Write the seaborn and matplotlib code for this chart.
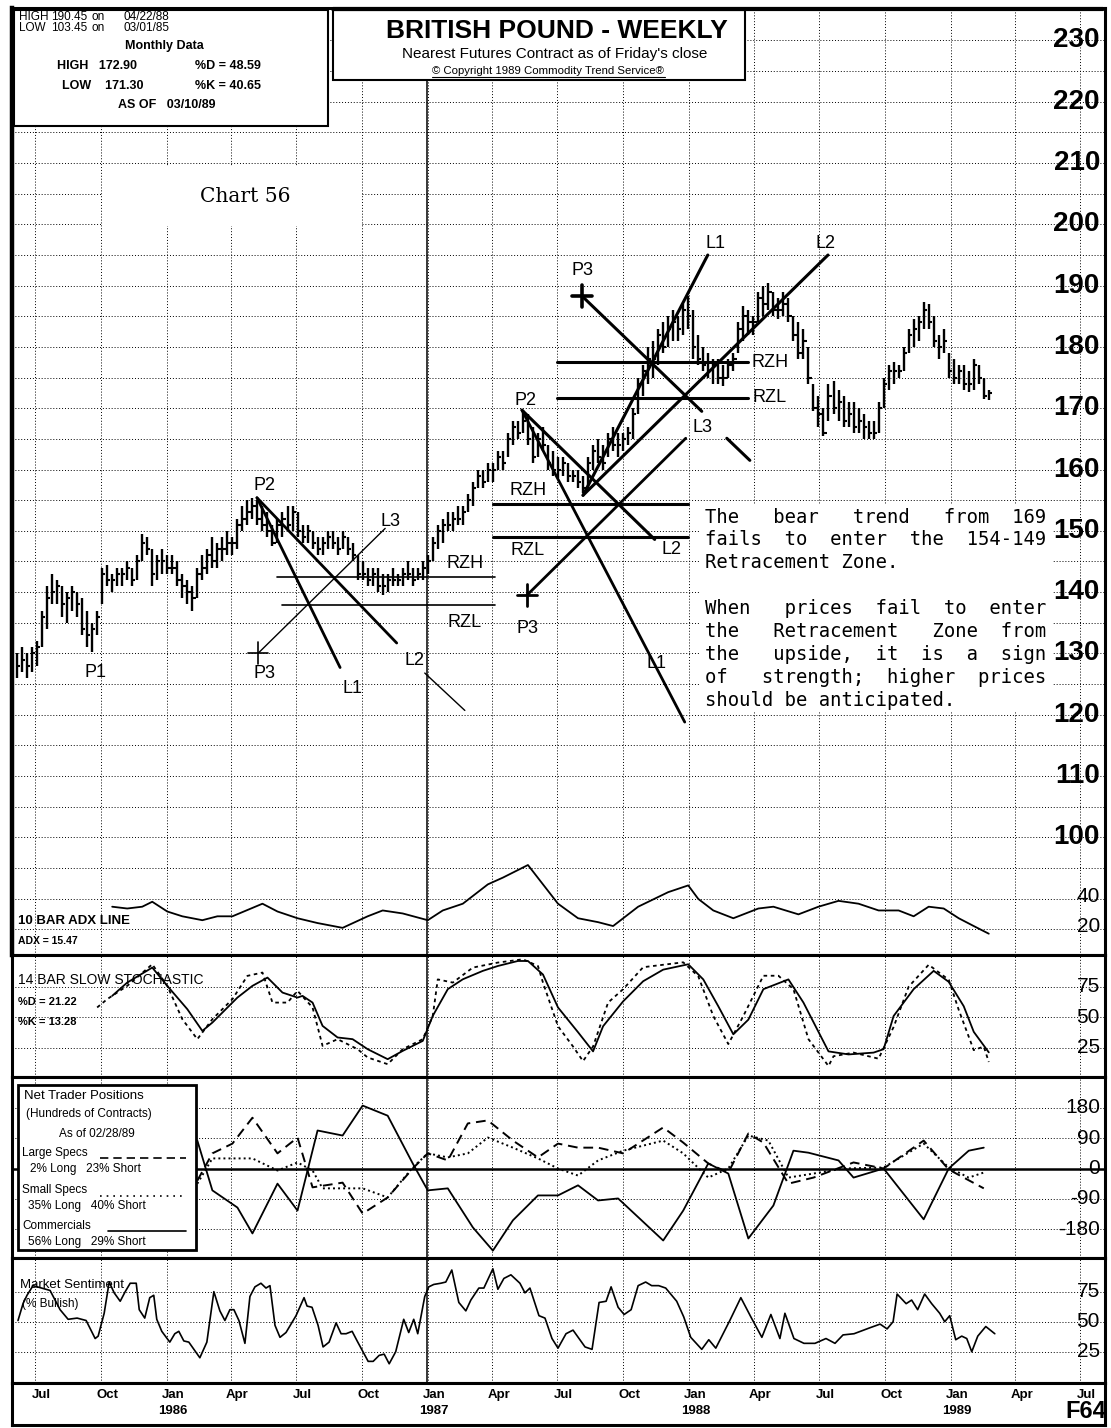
import numpy as np
import pandas as pd
import matplotlib
matplotlib.use("Agg")
import matplotlib.pyplot as plt
import matplotlib.transforms as mtrans
from matplotlib.patches import Rectangle
from matplotlib import font_manager as fm
import seaborn as sns

sns.set_theme(style="white")
plt.rcParams["font.family"] = ["Liberation Sans", "DejaVu Sans"]
_installed = {f.name for f in fm.fontManager.ttflist}
NARROW = "Liberation Sans Narrow" if "Liberation Sans Narrow" in _installed else "Liberation Sans"

# ---------------------------------------------------------------- data
FIRST_WEEK = pd.Timestamp("1985-06-21")   # Friday of the first weekly bar

price_high = [
    130, 131, 130, 131, 132, 137, 141, 143, 142, 141,
    140, 141, 140, 139, 137, 135, 137, 144, 144.5, 143,
    144, 144, 145, 144, 146, 149.5, 149, 147, 146, 147,
    146, 146, 145, 143, 142, 141, 144, 146, 147, 149,
    148, 149, 150, 149, 152, 154, 155, 155.4, 155, 154,
    153, 151, 152, 153, 154, 154, 153, 151, 151, 150,
    149, 149, 150, 150, 149, 150, 149, 148, 146, 145,
    144, 144, 144, 143, 143, 144, 143, 144, 145, 144,
    144, 145, 146, 149, 151, 152, 153, 153, 154, 154,
    156, 158, 160, 160, 161, 161, 163, 163, 166, 168,
    168, 169.7, 169, 167, 166, 167, 164, 163, 162, 162,
    161, 160, 160, 159, 162, 164, 165, 164, 166, 167,
    166, 166, 167, 170, 175, 177, 180, 181, 183, 184,
    185, 186, 185, 187, 188.3, 186, 182, 180, 179, 178,
    178, 177, 178, 179, 184, 186.7, 186, 185, 189, 190,
    190.45, 189, 188, 189, 188, 185, 184, 183, 180, 174,
    172, 170, 174, 174.4, 173, 172, 171, 171, 170, 169,
    168, 168, 171, 175, 177, 177.6, 177, 180, 183, 184.6,
    185, 187.4, 187, 185, 182, 183, 179, 178, 177, 177,
    176, 178, 177, 175, 173]
price_low = [
    126, 127, 126, 127, 128, 131, 134, 138, 138, 136,
    135, 137, 136, 133, 131, 130.2, 133, 138, 141, 140,
    141, 141, 142, 141, 142, 145, 146, 141, 142, 143,
    143, 143, 141, 139, 138, 137, 139, 142, 143, 144,
    144, 145, 146, 146, 147, 150, 151, 152, 151, 150,
    149, 147.6, 148, 149, 150, 150, 149, 148, 148, 147,
    146, 146, 147, 147, 146, 147, 146, 145, 142, 142,
    141, 141, 140, 139.6, 140, 141, 141, 141, 142, 141,
    142, 142, 143, 145, 147, 148, 150, 150, 151, 151,
    153, 154, 157, 157, 158, 158, 160, 160, 162, 164,
    165, 166, 164, 161, 162, 163, 160, 159, 158.6, 159,
    158, 158, 157, 156.2, 157, 160, 161, 160, 162, 163,
    162, 163, 164, 165, 169, 172, 174, 175, 177, 179,
    180, 181, 181, 182, 183, 178, 177, 176, 175, 174,
    174, 173.7, 175, 176, 179, 181, 182, 182, 184, 185,
    186, 185, 184.5, 185, 184, 181, 178, 178, 174, 169.5,
    167, 165.5, 168, 169, 168, 167, 167, 166, 166, 165,
    165, 165, 166, 170, 173, 174, 175, 176, 179, 180,
    181, 183, 183, 180, 178, 179, 175, 174, 174, 173,
    172.7, 173, 174, 171.5, 171.3]
price_close = [
    128, 129, 128, 130, 131, 136, 139, 140, 141, 138,
    139, 140, 138, 134, 133, 134, 136, 143, 142, 142,
    143, 143, 144, 142, 145, 148, 147, 143, 145, 145,
    144, 144, 142, 141, 140, 139, 143, 144, 146, 145,
    147, 147, 148, 148, 151, 152, 153, 154, 152, 151,
    150, 148, 151, 152, 151, 153, 150, 149, 150, 148,
    147, 148, 149, 148, 147, 149, 147, 146, 143, 143,
    142, 143, 141, 141, 142, 142, 142, 143, 143, 142,
    143, 144, 145, 148, 150, 151, 151, 152, 152, 153,
    155, 157, 159, 158, 160, 160, 162, 161, 165, 167,
    166, 168, 165, 162, 165, 164, 161, 160, 160, 161,
    159, 159, 158, 157, 161, 163, 162, 161, 165, 164,
    164, 165, 166, 169, 174, 176, 178, 178, 182, 180,
    183, 184, 183, 186, 185, 180, 178, 177, 176, 177,
    175, 175, 177, 178, 183, 185, 184, 184, 188, 187,
    189, 186, 186, 187, 185, 182, 179, 181, 175, 170,
    169, 166, 172, 170, 171, 168, 169, 167, 168, 167,
    166, 166, 170, 174, 176, 176, 176, 179, 182, 183,
    184, 186, 184, 181, 180, 181, 176, 175, 176, 174,
    174, 177, 175, 172, 172.5]

# 10 bar ADX (weeks since first bar, value)
adx_week = [19, 22, 25, 27, 30, 33, 37, 40, 43, 49, 52, 56, 60, 65, 70, 73, 77, 82, 85, 89,
            94, 97, 102, 105, 108, 112, 116, 119, 124, 130, 134, 136, 139, 143, 148, 151,
            156, 160, 164, 168, 172, 176, 179, 182, 185, 188, 191, 194]
adx_value = [33.5, 32.3, 33.5, 36.8, 30.3, 27.1, 24.5, 27.1, 27.1, 35.5, 30.3, 25.8, 22.6, 19.4,
             27.1, 31, 29, 24.5, 31, 35.5, 48.4, 52.9, 61.3, 48.4, 35.5, 25.8, 23.2, 20.6, 33.5,
             43.2, 47.7, 38.7, 31, 25.8, 32.3, 33.5, 28.4, 33.5, 37.4, 35.5, 31, 31, 27.1, 33.5,
             32.3, 25.8, 20.6, 15.5]

# 14 bar slow stochastic
stoch_d_week = [19, 22, 27, 30, 34, 37, 39, 44, 47, 50, 53, 56, 57, 59, 61, 64, 67, 70, 74, 77,
                81, 83, 86, 89, 93, 96, 100, 102, 105, 108, 112, 115, 117, 121, 125, 129, 134,
                137, 140, 143, 146, 149, 154, 157, 162, 166, 171, 173, 175, 179, 183, 186, 189,
                191, 194]
stoch_d = [67.5, 78.4, 90.7, 75.7, 56.6, 38.8, 45.6, 66.1, 75.7, 82.5, 70.2, 66.1, 67.5, 62,
           42.9, 33.4, 32, 23.8, 15.6, 22.4, 30.6, 51.1, 73, 81.1, 88, 92, 96.1, 96.1, 85, 58,
           37.7, 22, 42.6, 63, 79.5, 89, 93.4, 81, 59, 36, 48, 73, 81, 62, 22, 19.5, 21, 23.8,
           51, 73, 88, 79, 59, 38, 21.2]
stoch_k_week = [16, 18, 22, 27, 30, 33, 36, 39, 43, 46, 49, 51, 54, 56, 59, 61, 64, 68, 70, 74,
                77, 81, 83, 84, 87, 91, 96, 101, 104, 105, 108, 111, 113, 115, 118, 121, 125,
                133, 136, 139, 142, 145, 149, 152, 155, 158, 162, 163, 167, 172, 175, 178, 182,
                186, 188, 191, 193, 194]
stoch_k = [58, 64.8, 75.7, 93.4, 75.7, 48.4, 32, 48.4, 64.8, 83.9, 86.6, 62, 62, 71.6, 58, 26.5,
           32, 23.8, 17, 11.5, 23.8, 32, 51, 81, 78.4, 90.7, 94.8, 97.5, 92, 78.4, 42.6, 26, 14,
           26, 62, 73, 91, 95, 83.6, 51, 28, 51, 84, 84, 73, 32, 10, 18, 21, 16, 42, 75, 93,
           80.7, 56, 23, 26, 13.3]

# net trader positions, hundreds of contracts
comm_week = [36, 39, 44, 47, 52, 56, 60, 65, 69, 74, 79, 82, 86, 91, 95, 99, 104, 108, 112, 116,
             120, 129, 133, 138, 142, 146, 151, 155, 158, 164, 167, 173, 181, 186, 190, 193]
comm_value = [83, -65, -116, -193, -45, -125, 113, 98, 187, 157, 15, -65, -59, -175, -244, -154,
              -80, -80, -50, -95, -89, -214, -125, 15, -15, -208, -110, 53, 47, 24, -27, 0, -151,
              0, 53, 62]
large_week = [36, 39, 43, 47, 52, 56, 59, 65, 69, 74, 79, 82, 86, 90, 94, 99, 104, 108, 112, 116,
              121, 129, 133, 138, 142, 146, 149, 154, 159, 167, 173, 181, 186, 193]
large_value = [-36, 45, 74, 151, 45, 92, -56, -42, -134, -86, 0, 45, 24, 134, 143, 83, 33, 74, 62,
               62, 45, 122, 77, 15, -12, 104, 77, -45, -27, 18, 0, 83, -3, -59]
small_week = [36, 39, 47, 52, 56, 59, 61, 69, 74, 79, 82, 86, 90, 94, 99, 104, 108, 112, 116, 121,
              129, 133, 138, 142, 146, 150, 154, 159, 165, 173, 181, 186, 190, 193]
small_value = [-45, 30, 30, -6, 18, -6, -59, -59, -86, 3, 45, 33, 45, 92, 62, 30, 0, -21, 24, 53,
               83, 45, -27, 0, 98, 83, -27, -15, 0, 3, 74, 3, -27, -12]

# market sentiment, % bullish (weeks since first bar)
sent_week = [0.2, 1.2, 2.0, 3.2, 6.6, 8.6, 10.2, 12.0, 13.8, 15.6, 16.2, 17.4, 18.4, 19.4, 20.6,
             21.6, 22.6, 23.8, 24.4, 25.5, 26.5, 27.3, 27.9, 28.9, 30.5, 31.5, 32.3, 33.3, 34.3,
             36.5, 37.9, 39.3, 40.5, 41.5, 42.5, 43.3, 44.3, 45.5, 46.5, 47.5, 48.7, 49.7, 50.5,
             51.5, 52.5, 53.7, 54.7, 55.7, 57.3, 57.9, 58.9, 60.1, 61.1, 62.3, 63.7, 64.7, 65.7,
             66.9, 67.9, 70.1, 71.1, 72.3, 73.3, 74.3, 75.6, 77.2, 78.2, 79.2, 80.0, 81.4, 82.2,
             83.2, 84.6, 85.6, 86.8, 88.2, 89.6, 90.6, 92.2, 93.2, 95.0, 96.0, 97.2, 98.6, 100.4,
             101.4, 102.4, 104.2, 105.4, 106.8, 108.0, 109.6, 111.0, 113.4, 114.8, 116.2, 117.6,
             118.6, 120.0, 121.2, 122.6, 124.0, 125.5, 126.7, 128.1, 129.5, 131.7, 133.1, 134.5,
             136.7, 138.1, 139.5, 142.3, 144.5, 146.5, 148.7, 150.5, 152.3, 153.3, 155.1, 157.1,
             159.3, 161.5, 163.3, 164.9, 167.1, 170.3, 172.3, 173.7, 174.9, 175.7, 177.5, 178.6,
             179.8, 181.2, 182.6, 184.2, 185.2, 186.2, 187.4, 188.6, 189.6, 190.6, 191.8, 193.4,
             195.2]
sent_value = [51, 65, 72, 80, 76, 60, 52, 53, 51, 36, 38, 57, 83, 74, 67,
              75, 82, 82, 60, 53, 70, 72, 52, 42, 33, 40, 42, 34, 33,
              20, 33, 75, 59, 51, 60, 60, 51, 32, 71, 79, 82, 78, 80,
              47, 37, 41, 48, 55, 70, 63, 62, 47, 29, 33, 49, 40, 40,
              42, 34, 17, 17, 22, 23, 15, 25, 52, 41, 52, 40, 71, 79,
              81, 82, 83, 93, 66, 59, 68, 78, 78, 94, 77, 86, 89, 82,
              74, 78, 55, 53, 36, 28, 40, 43, 29, 27, 66, 67,
              79, 62, 56, 60, 80, 83, 80, 80, 78, 67, 54, 37,
              27, 35, 28, 51, 70, 54, 37, 56, 36, 57, 36, 32,
              32, 36, 32, 39, 40, 45, 48, 44, 50, 73, 65, 68,
              60, 73, 65, 57, 50, 55, 35, 38, 36, 25, 38, 46,
              40]

# retracement work: (start week, start price, end week, end price, width)
trend_lines = [
    (47.9, 155.4, 64.5, 127.7, 2.0),
    (47.9, 155.4, 75.8, 131.7, 2.0),
    (81.4, 126.8, 89.4, 120.7, 1.0),
    (48.1, 130.0, 73.5, 150.4, 1.0),
    (51.9, 142.4, 95.4, 142.4, 1.2),
    (52.9, 137.9, 95.4, 137.9, 1.2),
    (100.8, 169.7, 133.3, 118.8, 2.0),
    (100.8, 169.7, 127.3, 148.6, 2.2),
    (101.8, 139.5, 133.5, 165.1, 2.0),
    (95.0, 154.3, 133.9, 154.3, 2.2),
    (95.0, 149.0, 133.9, 149.0, 2.2),
    (112.8, 188.3, 136.7, 169.5, 2.2),
    (141.7, 165.1, 146.3, 161.5, 2.2),
    (113.0, 155.8, 137.9, 195.0, 2.2),
    (113.0, 155.8, 161.9, 195.0, 2.2),
    (107.8, 177.5, 145.9, 177.5, 2.2),
    (107.8, 171.6, 145.9, 171.6, 2.2),
]
p3_marks = [(48.1, 130.0, 1.2), (101.8, 139.5, 2.0), (112.8, 188.3, 2.6)]
point_labels = [
    ("P1", 15.6, 126.9), ("P2", 49.5, 157.4), ("P3", 49.5, 126.8), ("L1", 66.9, 124.3),
    ("L2", 79.4, 128.9), ("L3", 74.5, 151.6), ("RZH", 89.4, 144.7), ("RZL", 89.4, 135.1),
    ("P2", 101.6, 171.3), ("RZH", 102.0, 156.6), ("RZL", 102.0, 146.8), ("P3", 102.0, 134.1),
    ("L1", 127.7, 128.4), ("L2", 130.7, 147.0), ("L3", 136.9, 166.9),
    ("P3", 112.8, 192.5), ("L1", 139.5, 196.9), ("L2", 161.5, 196.9),
    ("RZH", 150.3, 177.5), ("RZL", 150.3, 171.8),
]

price_ticks = list(range(100, 231, 10))
quarter_dates = pd.date_range("1985-07-01", "1989-07-01", freq="3MS") + pd.Timedelta(days=15)
quarter_names = ["Jul", "Oct", "Jan", "Apr"] * 4 + ["Jul"]
year_names = {2: "1986", 6: "1987", 10: "1988", 14: "1989"}

# ---------------------------------------------------------------- helpers
W, H = 1111, 1428
fig = plt.figure(figsize=(W / 100, H / 100), dpi=100)
fig.patch.set_facecolor("white")


def wk(weeks):
    w = np.atleast_1d(np.asarray(weeks, dtype=float))
    return FIRST_WEEK + pd.to_timedelta(w * 7, unit="D")


def panel(top, bottom):
    return fig.add_axes([12 / W, 1 - bottom / H, (1105 - 12) / W, (bottom - top) / H])


def px(x, y):
    return x / W, 1 - y / H


def ftext(x, y, s, **kw):
    kw.setdefault("va", "center")
    kw.setdefault("color", "black")
    return fig.text(*px(x, y), s, **kw)


def fbox(x0, y0, x1, y1, lw=1.5, z=1):
    fig.add_artist(Rectangle(px(x0, y1), (x1 - x0) / W, (y1 - y0) / H,
                             transform=fig.transFigure, facecolor="white",
                             edgecolor="black" if lw > 0 else "white", lw=max(lw, 0.01), zorder=z))


XLIM = (wk(-1.0)[0], wk(217.2)[0])
GRID = dict(color="black", lw=0.7, ls=(0, (1, 2)))
DOTTED = (0, (1, 1.6))
DASHED = (0, (5, 3))
NFAM = [NARROW, "DejaVu Sans"]


def style_panel(ax, yticks, ylim, lw=2.2):
    ax.set_xlim(*XLIM)
    ax.set_ylim(*ylim)
    ax.set_xticks(quarter_dates)
    ax.set_yticks(yticks)
    ax.grid(True, **GRID)
    ax.tick_params(left=False, bottom=False, right=False, top=False,
                   labelleft=False, labelbottom=False)
    ax.set_xlabel("")
    ax.set_ylabel("")
    for s in ax.spines.values():
        s.set_visible(True)
        s.set_color("black")
        s.set_linewidth(lw)
    ax.axvline(pd.Timestamp("1987-01-15"), color="black", lw=1.1, zorder=1)


def right_labels(ax, values, size, weight="normal"):
    tr = mtrans.blended_transform_factory(ax.transAxes, ax.transData)
    for v in values:
        ax.text(0.9954, v, str(v), transform=tr, ha="right", va="center",
                fontsize=size, fontweight=weight, family=NFAM, zorder=6, color="black")


# ---------------------------------------------------------------- price panel
ax = panel(8, 955)

bar_dates = wk(range(len(price_close)))
ax.vlines(bar_dates, price_low, price_high, color="black", lw=1.7, zorder=4)
ax.hlines(price_close, bar_dates, bar_dates + pd.Timedelta(days=4.5), color="black", lw=1.5,
          zorder=4)

for w0, p0, w1, p1, lw in trend_lines:
    ax.plot(wk([w0, w1]), [p0, p1], color="black", lw=lw, solid_capstyle="round", zorder=5)
for w, p, lw in p3_marks:
    ax.plot(wk([w - 2.0, w + 2.0]), [p, p], color="black", lw=lw, zorder=5)
    ax.plot(wk([w, w]), [p - 1.8, p + 1.8], color="black", lw=lw, zorder=5)
for s, w, p in point_labels:
    ax.text(wk(w)[0], p, s, ha="center", va="center", fontsize=13, color="black", zorder=6)

# ADX in the lower part of the price panel
ax_adx = ax.twinx()
sns.lineplot(x=wk(adx_week), y=adx_value, ax=ax_adx, color="black", lw=1.3, sort=False,
             estimator=None)
ax_adx.set_ylim(1.3, 632.7)
ax_adx.axis("off")

style_panel(ax, np.arange(85, 235, 5), (80.8, 235.3))
ax.spines["left"].set_linewidth(3.2)
ax_adx.set_xlim(*XLIM)
right_labels(ax, price_ticks, 20, "bold")
right_labels(ax_adx, [40, 20], 15)
ftext(18, 921, "10 BAR ADX LINE", fontsize=9.5, fontweight="bold", family=NFAM)
ftext(18, 941, "ADX = 15.47", fontsize=7.5, fontweight="bold", family=NFAM)

# ---------------------------------------------------------------- stochastic
ax_st = panel(955, 1077)
sns.lineplot(x=wk(stoch_d_week), y=stoch_d, ax=ax_st, color="black", lw=1.3, sort=False,
             estimator=None)
sns.lineplot(x=wk(stoch_k_week), y=stoch_k, ax=ax_st, color="black", lw=1.3, sort=False,
             estimator=None, linestyle=(0, (2, 2)))
style_panel(ax_st, [25, 50, 75], (1.0, 101.0))
right_labels(ax_st, [75, 50, 25], 15)
ftext(18, 980, "14 BAR SLOW STOCHASTIC", fontsize=10, family=NFAM)
ftext(18, 1002, "%D = 21.22", fontsize=8, fontweight="bold", family=NFAM)
ftext(18, 1022, "%K = 13.28", fontsize=8, fontweight="bold", family=NFAM)

# ---------------------------------------------------------------- net trader positions
ax_nt = panel(1077, 1258)
sns.lineplot(x=wk(comm_week), y=comm_value, ax=ax_nt, color="black", lw=1.3, sort=False,
             estimator=None)
sns.lineplot(x=wk(large_week), y=large_value, ax=ax_nt, color="black", lw=1.4, sort=False,
             estimator=None, linestyle=DASHED)
sns.lineplot(x=wk(small_week), y=small_value, ax=ax_nt, color="black", lw=1.4, sort=False,
             estimator=None, linestyle=DOTTED)
style_panel(ax_nt, [-180, -90, 90, 180], (-266, 272))
ax_nt.axhline(0, color="black", lw=1.8, zorder=3)
right_labels(ax_nt, [180, 90, 0, -90, -180], 15)

fbox(18, 1085, 196, 1250, lw=2.0)
nf = dict(family=NFAM, zorder=4)
ftext(24, 1096, "Net Trader Positions", fontsize=9.5, **nf)
ftext(26, 1114, "(Hundreds of Contracts)", fontsize=8.5, **nf)
ftext(97, 1134, "As of 02/28/89", fontsize=8.5, ha="center", **nf)
ftext(22, 1153, "Large Specs", fontsize=8.5, **nf)
ftext(30, 1169, "2% Long   23% Short", fontsize=8.5, **nf)
ftext(22, 1190, "Small Specs", fontsize=8.5, **nf)
ftext(28, 1206, "35% Long   40% Short", fontsize=8.5, **nf)
ftext(22, 1226, "Commercials", fontsize=8.5, **nf)
ftext(28, 1242, "56% Long   29% Short", fontsize=8.5, **nf)
for (x0, x1, y, ls) in [(100, 186, 1158, DASHED), (100, 182, 1196, (0, (1, 3))),
                        (108, 186, 1231, "-")]:
    fig.add_artist(plt.Line2D([x0 / W, x1 / W], [1 - y / H, 1 - y / H], transform=fig.transFigure,
                              color="black", lw=1.2, ls=ls, zorder=4))

# ---------------------------------------------------------------- market sentiment
ax_ms = panel(1258, 1383)
sns.lineplot(x=wk(sent_week), y=sent_value, ax=ax_ms, color="black", lw=1.2, sort=False,
             estimator=None)
style_panel(ax_ms, [25, 50, 75], (-1.0, 103.0))
right_labels(ax_ms, [75, 50, 25], 15)
ftext(20, 1285, "Market Sentiment", fontsize=9.5, family=NFAM)
ftext(22, 1304, "(% Bullish)", fontsize=8.5, family=NFAM)

# ---------------------------------------------------------------- date strip
ax_dt = panel(1383, 1425)
ax_dt.set_xlim(*XLIM)
ax_dt.set_ylim(0, 1)
ax_dt.set_xticks([])
ax_dt.set_yticks([])
ax_dt.grid(False)
for s in ax_dt.spines.values():
    s.set_color("black")
    s.set_linewidth(2.2)
trd = mtrans.blended_transform_factory(ax_dt.transData, ax_dt.transAxes)
for i, (d, name) in enumerate(zip(quarter_dates, quarter_names)):
    ax_dt.text(d + pd.Timedelta(days=9), 0.72, name, transform=trd, ha="center", va="center",
               fontsize=9.5, fontweight="bold", family=NFAM, color="black")
    if i in year_names:
        ax_dt.text(d + pd.Timedelta(days=9), 0.33, year_names[i], transform=trd, ha="center",
                   va="center", fontsize=9.5, fontweight="bold", family=NFAM, color="black")
ftext(1086, 1412, "F64", fontsize=17, fontweight="bold", ha="center", family=NFAM)

# ---------------------------------------------------------------- header boxes
fbox(14, 10, 328, 126, lw=1.5)
hf = dict(family=NFAM, fontsize=8.5, zorder=4)
for y, a, b, c in [(17, "HIGH", "190.45", "04/22/88"), (28, "LOW", "103.45", "03/01/85")]:
    ftext(19, y, a, **hf)
    ftext(51, y, b, **hf)
    ftext(92, y, "on", **hf)
    ftext(124, y, c, **hf)
ftext(164, 46, "Monthly Data", fontweight="bold", ha="center", family=NFAM, fontsize=9, zorder=4)
ftext(57, 66, "HIGH   172.90", fontweight="bold", family=NFAM, fontsize=9, zorder=4)
ftext(62, 86, "LOW    171.30", fontweight="bold", family=NFAM, fontsize=9, zorder=4)
ftext(195, 66, "%D = 48.59", fontweight="bold", family=NFAM, fontsize=9, zorder=4)
ftext(195, 86, "%K = 40.65", fontweight="bold", family=NFAM, fontsize=9, zorder=4)
ftext(167, 105, "AS OF   03/10/89", fontweight="bold", ha="center", family=NFAM, fontsize=9,
      zorder=4)

fbox(333, 10, 745, 80, lw=1.5)
fig.add_artist(plt.Line2D([333 / W, 1103 / W], [1 - 9 / H, 1 - 9 / H], transform=fig.transFigure,
                          color="black", lw=3.0, zorder=4))
ftext(557, 31, "BRITISH POUND - WEEKLY", fontsize=19, fontweight="bold", ha="center", zorder=4)
ftext(555, 54, "Nearest Futures Contract as of Friday's close", fontsize=11, ha="center", zorder=4)
ftext(548, 71, "\u00a9 Copyright 1989 Commodity Trend Service\u00ae", fontsize=8.2, ha="center",
      zorder=4)
fig.add_artist(plt.Line2D([432 / W, 665 / W], [1 - 77 / H, 1 - 77 / H], transform=fig.transFigure,
                          color="black", lw=0.8, zorder=4))

# chart caption
fbox(102, 166, 361, 226, lw=0)
ftext(245, 197, "Chart 56", fontsize=14.5, ha="center", family=["DejaVu Serif"], zorder=4)

# ---------------------------------------------------------------- commentary
def justify(text, width):
    words = text.split()
    spaces = width - sum(len(w) for w in words)
    base, extra = divmod(spaces, len(words) - 1)
    out = words[0]
    for k, w in enumerate(words[1:]):
        out += " " * (base + (1 if k < extra else 0)) + w
    return out


note = [("The bear trend from 169", True), ("fails to enter the 154-149", True),
        ("Retracement Zone.", False), ("", False),
        ("When prices fail to enter", True), ("the Retracement Zone from", True),
        ("the upside, it is a sign", True), ("of strength; higher prices", True),
        ("should be anticipated.", False)]
fbox(699, 505, 1052, 712, lw=0)
for k, (line, just) in enumerate(note):
    if not line:
        continue
    ftext(705, 517 + k * 22.9, justify(line, 30) if just else line, fontsize=13.6,
          family=["DejaVu Sans Mono"], zorder=4)

fig.savefig("out.png", dpi=100, facecolor="white")
